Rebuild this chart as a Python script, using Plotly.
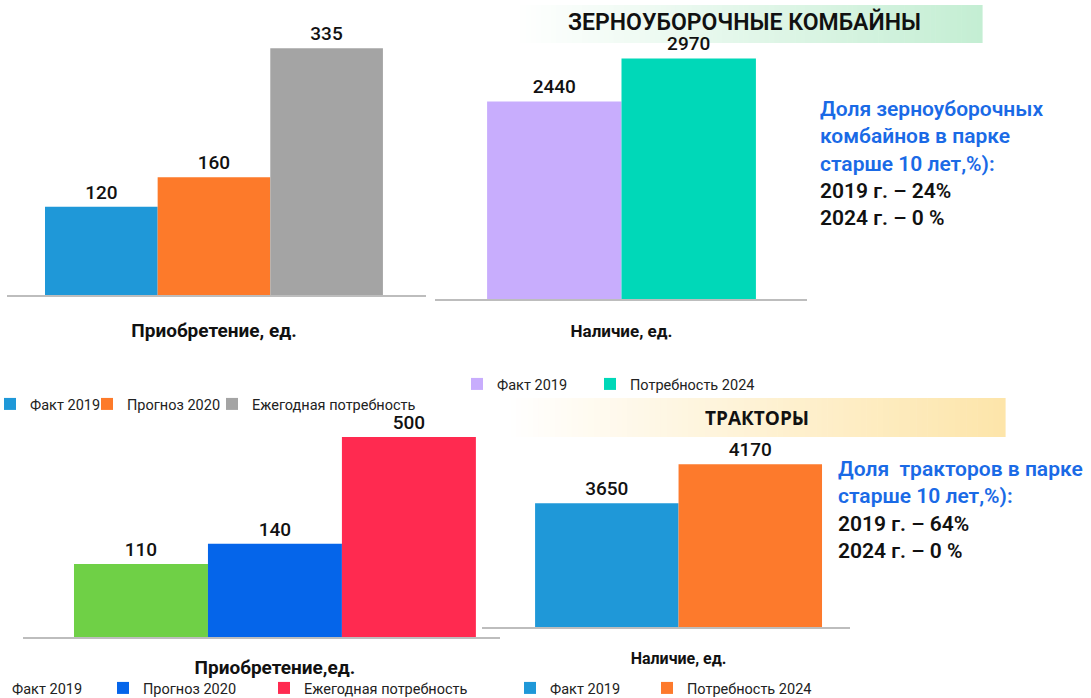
import plotly.graph_objects as go

W, H = 1091, 698

# ---------------- data ----------------
buy_combine_cats = ["Факт 2019", "Прогноз 2020", "Ежегодная потребность"]
buy_combine_vals = [120, 160, 335]
buy_combine_label = "Приобретение, ед."

stock_combine_cats = ["Факт 2019", "Потребность 2024"]
stock_combine_vals = [2440, 2970]
stock_combine_label = "Наличие, ед."

buy_tractor_cats = ["Факт 2019", "Прогноз 2020", "Ежегодная потребность"]
buy_tractor_vals = [110, 140, 500]
buy_tractor_label = "Приобретение,ед."

stock_tractor_cats = ["Факт 2019", "Потребность 2024"]
stock_tractor_vals = [3650, 4170]
stock_tractor_label = "Наличие, ед."

title_combine = "ЗЕРНОУБОРОЧНЫЕ КОМБАЙНЫ"
title_tractor = "ТРАКТОРЫ"
note_combine_blue = ["Доля зерноуборочных", "комбайнов в парке", "старше 10 лет,%):"]
note_combine_black = ["2019 г. – 24%", "2024 г. – 0 %"]
note_tractor_blue = ["Доля  тракторов в парке", "старше 10 лет,%):"]
note_tractor_black = ["2019 г. – 64%", "2024 г. – 0 %"]

# ---------------- styles ----------------
col_buy_combine = ["#1f98d8", "#fd7a2a", "#a4a4a4"]
col_stock_combine = ["#c8adfd", "#00d8b8"]
col_buy_tractor = ["#6fd046", "#0565ea", "#ff2a50"]
col_stock_tractor = ["#1f98d8", "#fd7a2c"]

FONT = "Roboto"
BLUE_TXT = "#1a6ae6"


def fx(px):
    return px / W


def fy(py):
    return 1 - py / H


fig = go.Figure()

# panel spec: (cats, vals, label, colors, x-domain px, y-domain px (top, bottom),
#              x-range, y-range, y-type, tick font size, standoff, legend text x px list, legend y px)
panels = [
    (buy_combine_cats, buy_combine_vals, buy_combine_label, col_buy_combine,
     (7, 426), (10, 295), [-0.49, 0.502], [0, 387], "linear", 19, 17,
     [30, 127, 252], 404),
    (stock_combine_cats, stock_combine_vals, stock_combine_label, col_stock_combine,
     (435, 807), (25, 299), [-0.555, 0.552], [0, 3383], "linear", 17, 16,
     [497, 630], 384),
    (buy_tractor_cats, buy_tractor_vals, buy_tractor_label, col_buy_tractor,
     (23, 500), (415, 637), [-0.5015, 0.448], [1.663, 2.813], "log", 19, 12,
     [12, 143, 304], 688),
    (stock_tractor_cats, stock_tractor_vals, stock_tractor_label, col_stock_tractor,
     (482, 850), (430, 627), [-0.548, 0.478], [2000, 4627], "linear", 16, 16,
     [550, 687], 688),
]

legend_idx = 0
layout_extra = {}
for p_i, (cats, vals, label, cols, xd, yd, xr, yr, ytype, tfs, standoff, leg_x, leg_y) in enumerate(panels):
    n = p_i + 1
    xa = "x" if n == 1 else f"x{n}"
    ya = "y" if n == 1 else f"y{n}"
    for c_i, (cat, val, col) in enumerate(zip(cats, vals, cols)):
        legend_idx += 1
        lg = "legend" if legend_idx == 1 else f"legend{legend_idx}"
        fig.add_trace(go.Bar(
            x=[label], y=[val], name=cat, marker_color=col, marker_line_width=0,
            text=[str(val)], textposition="outside",
            textfont=dict(family=FONT, size=19, color="#111111", weight=500),
            xaxis=xa, yaxis=ya, legend=lg, hoverinfo="name+y",
        ))
        layout_extra[lg] = dict(
            x=fx(leg_x[c_i] - 40), y=fy(leg_y), xanchor="left", yanchor="middle",
            orientation="h", bgcolor="rgba(0,0,0,0)", borderwidth=0,
            font=dict(family=FONT, size=14.5, color="#222222"),
            itemclick=False, itemdoubleclick=False,
        )
    xkey = "xaxis" if n == 1 else f"xaxis{n}"
    ykey = "yaxis" if n == 1 else f"yaxis{n}"
    layout_extra[xkey] = dict(
        domain=[fx(xd[0]), fx(xd[1])], anchor=ya, type="category", range=xr,
        showline=True, linecolor="#bdbdbd", linewidth=1.5, showgrid=False,
        zeroline=False, ticks="", ticklabelstandoff=standoff,
        tickfont=dict(family=FONT, size=tfs, color="#111111", weight=700),
        fixedrange=True, automargin=False,
    )
    layout_extra[ykey] = dict(
        domain=[fy(yd[1]), fy(yd[0])], anchor=xa, type=ytype, range=yr,
        visible=False, showgrid=False, zeroline=False, fixedrange=True,
        automargin=False,
    )

# gradient banners (decoration)
shapes = []


def banner(x0, x1, y0, y1, c_end, steps=90):
    r1, g1, b1 = c_end
    for s in range(steps):
        t0 = s / steps
        t1 = (s + 1) / steps
        t = (t0 + t1) / 2
        r = round(255 + (r1 - 255) * t)
        g = round(255 + (g1 - 255) * t)
        b = round(255 + (b1 - 255) * t)
        shapes.append(dict(
            type="rect", xref="paper", yref="paper", layer="below",
            x0=fx(x0 + (x1 - x0) * t0), x1=fx(x0 + (x1 - x0) * t1 + 0.6),
            y0=fy(y1), y1=fy(y0), line=dict(width=0),
            fillcolor=f"rgb({r},{g},{b})",
        ))


banner(515, 982, 5, 43, (196, 238, 211))
banner(505, 1005, 398, 437, (253, 229, 170))

annotations = [
    dict(text=title_combine, x=fx(745), y=fy(22), xref="paper", yref="paper",
         xanchor="center", yanchor="middle", showarrow=False,
         font=dict(family=FONT, size=23, color="#111111", weight=600)),
    dict(text=title_tractor, x=fx(757), y=fy(418), xref="paper", yref="paper",
         xanchor="center", yanchor="middle", showarrow=False,
         font=dict(family="Open Sans", size=19, color="#111111", weight=700)),
]


def note(x_px, y_top_px, blue_lines, black_lines):
    blue = "<br>".join(f"<span style='color:{BLUE_TXT}'>{l.replace('  ', '&nbsp; ')}</span>" for l in blue_lines)
    black = "<br>".join(f"<span style='color:#111111'>{l}</span>" for l in black_lines)
    annotations.append(dict(
        text=blue + "<br>" + black, x=fx(x_px), y=fy(y_top_px), xref="paper", yref="paper",
        xanchor="left", yanchor="top", align="left", showarrow=False,
        font=dict(family=FONT, size=21, color="#111111", weight=600),
    ))


note(818, 95, note_combine_blue, note_combine_black)
note(836, 455, note_tractor_blue, note_tractor_black)

fig.update_layout(
    width=W, height=H, margin=dict(l=0, r=0, t=0, b=0, autoexpand=False),
    paper_bgcolor="white", plot_bgcolor="rgba(0,0,0,0)",
    barmode="group", bargap=0.2, bargroupgap=0,
    showlegend=True, shapes=shapes, annotations=annotations,
    font=dict(family=FONT),
    **layout_extra,
)

fig.write_html(
    "out.html",
    config={"displayModeBar": False},
    post_script="document.body.style.margin='0';document.body.style.overflow='hidden';",
)
